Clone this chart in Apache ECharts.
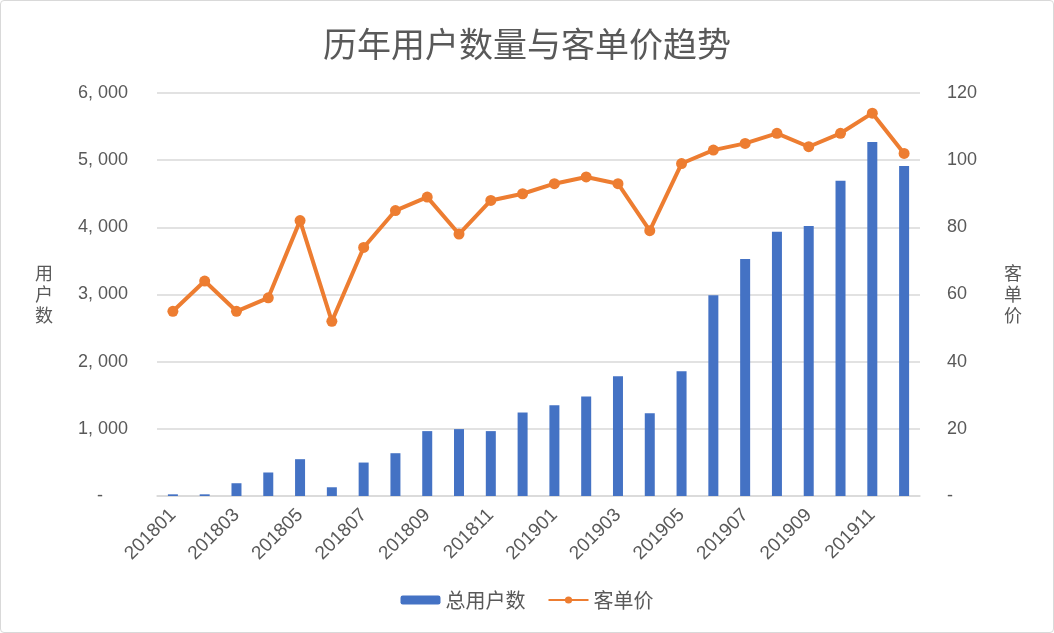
<!DOCTYPE html>
<html>
<head>
<meta charset="utf-8">
<script src="https://cdn.jsdelivr.net/npm/echarts@6/dist/echarts.min.js"></script>
<style>
html, body { margin: 0; padding: 0; background: #fff; }
#container { width: 1054px; height: 633px; box-sizing: border-box; border: 1px solid #d9d9d9; border-radius: 4px; }
</style>
</head>
<body>
<div id="container"></div>
<script>
var months = ['201801','201802','201803','201804','201805','201806','201807','201808','201809','201810','201811','201812',
              '201901','201902','201903','201904','201905','201906','201907','201908','201909','201910','201911','201912'];
var users = [25, 25, 190, 350, 548, 130, 498, 637, 966, 996, 966, 1243,
             1352, 1481, 1784, 1232, 1858, 2990, 3527, 3935, 4020, 4695, 5270, 4915];
var price = [55, 64, 55, 59, 82, 52, 74, 85, 89, 78, 88, 90,
             93, 95, 93, 79, 99, 103, 105, 108, 104, 108, 114, 102];
var leftTicks = [0, 1000, 2000, 3000, 4000, 5000, 6000];
var rightTicks = [0, 20, 40, 60, 80, 100, 120];

var dom = document.getElementById("container");
var myChart = echarts.init(dom);
var grey = '#595959';
var cjk = '"Noto Sans CJK SC", sans-serif';
var num = '"Liberation Sans", Arial, sans-serif';

var option = {
    animation: false,
    title: {
        text: '历年用户数量与客单价趋势',
        left: 'center',
        top: 21,
        textStyle: { fontFamily: cjk, fontSize: 34, fontWeight: 'normal', color: grey }
    },
    legend: {
        bottom: 17,
        left: 'center',
        itemWidth: 40,
        itemHeight: 9,
        itemGap: 22,
        textStyle: { fontFamily: cjk, fontSize: 20, color: grey },
        data: ['总用户数', '客单价']
    },
    grid: { left: 156, right: 133, top: 92, bottom: 136 },
    graphic: [
        { type: 'text', left: 34, top: 262, style: { text: '用\n户\n数', fontFamily: cjk, fontSize: 18, fill: grey, lineHeight: 21 } },
        { type: 'text', left: 1003, top: 262, style: { text: '客\n单\n价', fontFamily: cjk, fontSize: 18, fill: grey, lineHeight: 21 } }
    ],
    xAxis: {
        type: 'category',
        data: months,
        axisTick: { show: false },
        axisLine: { lineStyle: { color: '#d9d9d9', width: 1.5 } },
        axisLabel: { interval: 1, rotate: 45, fontFamily: num, fontSize: 19, color: grey, margin: 16 }
    },
    yAxis: [
        {
            type: 'value',
            min: leftTicks[0],
            max: leftTicks[leftTicks.length - 1],
            interval: 1000,
            axisLine: { show: false },
            axisTick: { show: false },
            splitLine: { lineStyle: { color: '#d9d9d9', width: 1.5 } },
            axisLabel: {
                fontFamily: num, fontSize: 18, color: grey, margin: 29,
                formatter: function (v) { return v === 0 ? '-     ' : v.toLocaleString('en-US').replace(',', ', '); }
            }
        },
        {
            type: 'value',
            min: rightTicks[0],
            max: rightTicks[rightTicks.length - 1],
            interval: 20,
            axisLine: { show: false },
            axisTick: { show: false },
            splitLine: { show: false },
            axisLabel: {
                fontFamily: num, fontSize: 18, color: grey, margin: 27,
                formatter: function (v) { return v === 0 ? '-' : String(v); }
            }
        }
    ],
    series: [
        {
            name: '总用户数',
            type: 'bar',
            yAxisIndex: 0,
            barWidth: 10,
            itemStyle: { color: '#4472C4' },
            data: users
        },
        {
            name: '客单价',
            type: 'line',
            yAxisIndex: 1,
            symbol: 'circle',
            symbolSize: 11,
            lineStyle: { color: '#ED7D31', width: 4 },
            itemStyle: { color: '#ED7D31' },
            data: price
        }
    ]
};
myChart.setOption(option, true);
</script>
</body>
</html>
